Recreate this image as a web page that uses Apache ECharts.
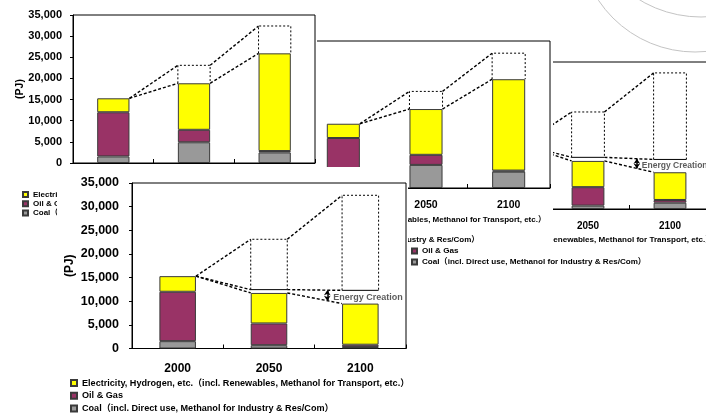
<!DOCTYPE html>
<html>
<head>
<meta charset="utf-8">
<script src="https://cdn.jsdelivr.net/npm/echarts@6/dist/echarts.min.js"></script>
<style>
  html, body { margin: 0; padding: 0; background: #fff; }
  #stage { position: relative; width: 706px; height: 415px; overflow: hidden; background: #fff; }
  .panel { position: absolute; background: #fff; }
</style>
</head>
<body>
<div id="stage">
  <div id="pC" class="panel" style="left:0;top:0;width:706px;height:415px;z-index:1"></div>
  <div id="pB" class="panel" style="left:200px;top:0;width:353px;height:246px;z-index:2"></div>
  <div id="pA" class="panel" style="left:0;top:0;width:317px;height:225px;z-index:3"></div>
  <div id="pD" class="panel" style="left:57px;top:167px;width:351px;height:248px;z-index:4"></div>
</div>
<script>
// ---------------- data ----------------
const years = ['2000', '2050', '2100'];
const yTicks = [0, 5000, 10000, 15000, 20000, 25000, 30000, 35000];
const nameElec = 'Electricity, Hydrogen, etc.（incl. Renewables, Methanol for Transport, etc.）';
const nameOil = 'Oil & Gas';
const nameCoal = 'Coal（incl. Direct use, Methanol for Industry & Res/Com）';
const unitLabel = '(PJ)';
const noteText = 'Energy Creation';

// Case 1: supply grows with demand
const coal1 = [1550, 4900, 2500];
const oil1 = [10450, 2950, 330];
const elec1 = [3300, 11000, 23100];
const demand1 = [15300, 23100, 32400];

// Case 2: supply grows with demand, more coal
const coal2 = [1500, 5500, 3900];
const oil2 = [10400, 2400, 250];
const elec2 = [3400, 10900, 21750];
const demand2 = [15300, 23000, 32100];

// Case 3: demand cut, energy creation
const coal3 = [1500, 800, 1500];
const oil3 = [10500, 4400, 650];
const elec3 = [3300, 6250, 6600];
const demand3 = [15300, 23100, 32400];
const floor3 = [15300, 12300, 11800];

// Case 4: demand cut, energy creation
const coal4 = [1550, 700, 300];
const oil4 = [10450, 4600, 500];
const elec4 = [3300, 6450, 8700];
const demand4 = [15300, 23100, 32400];
const floor4 = [15300, 12450, 12300];

// ---------------- drawing ----------------
const FONT = '"Liberation Sans", Arial, "Noto Sans CJK JP", sans-serif';
const COLORS = { elec: '#ffff00', oil: '#993366', coal: '#999999' };
const HALF = 0.2;            // half of a bar in category units (barWidth 40%)

function buildOption(d, s) {
  const n = years.length;
  const totals = years.map((_, i) => d.coal[i] + d.oil[i] + d.elec[i]);
  const lx = i => i + 0.5 - HALF;
  const rx = i => i + 0.5 + HALF;
  const levels = i => d.floor ? [d.demand[i], d.floor[i], totals[i]] : [d.demand[i], totals[i]];

  const connectors = [];
  for (let i = 0; i < n - 1; i++) {
    const a = levels(i), b = levels(i + 1);
    for (let k = 0; k < a.length; k++) {
      connectors.push({ coords: [[rx(i), i === 0 ? totals[0] : a[k]], [lx(i + 1), b[k]]] });
    }
  }
  const boxes = [], floors = [];
  for (let i = 1; i < n; i++) {
    const base = d.floor ? d.floor[i] : totals[i];
    boxes.push({ coords: [[lx(i), base], [lx(i), d.demand[i]], [rx(i), d.demand[i]], [rx(i), base]] });
    if (d.floor) floors.push({ coords: [[lx(i), base], [rx(i), base]] });
  }
  const extra = [];
  if (d.floor) {
    const t = s.noteAt;
    const x = rx(1) + t * (lx(2) - rx(1));
    const top = d.floor[1] + t * (d.floor[2] - d.floor[1]);
    const bot = totals[1] + t * (totals[2] - totals[1]);
    extra.push({
      type: 'lines', coordinateSystem: 'cartesian2d', xAxisIndex: 1, yAxisIndex: 0,
      symbol: ['arrow', 'arrow'], symbolSize: [5, 5], silent: true, z: 6,
      lineStyle: { color: '#000', width: 1.5, opacity: 1 },
      data: [{ coords: [[x, top], [x, bot]] }]
    });
    extra.push({
      type: 'scatter', xAxisIndex: 1, yAxisIndex: 0, symbolSize: 0, silent: true, z: 6,
      data: [[x, (top + bot) / 2]],
      label: {
        show: true, position: 'right', distance: s.noteGap, formatter: noteText,
        fontFamily: FONT, fontSize: s.noteFont, fontWeight: 'bold', color: '#333', offset: [0, 2]
      }
    });
  }

  const barBase = {
    type: 'bar', stack: 'total', barWidth: '40%', xAxisIndex: 0, yAxisIndex: 0,
    itemStyle: { borderColor: '#3a3a3a', borderWidth: 1 }
  };
  const lineBase = {
    type: 'lines', coordinateSystem: 'cartesian2d', xAxisIndex: 1, yAxisIndex: 0,
    polyline: true, silent: true, z: 5
  };

  return {
    animation: false,
    backgroundColor: '#fff',
    textStyle: { fontFamily: FONT },
    grid: Object.assign({ show: true, borderColor: '#000', borderWidth: 1, backgroundColor: 'transparent',
      containLabel: false, outerBoundsMode: 'none' }, s.grid),
    legend: {
      orient: 'vertical', left: s.legend.left, top: s.legend.top, padding: 0,
      itemWidth: s.legend.icon, itemHeight: s.legend.icon, itemGap: s.legend.gap,
      icon: 'rect', selectedMode: false,
      data: [nameElec, nameOil, nameCoal],
      textStyle: { fontFamily: FONT, fontSize: s.legend.font, fontWeight: 'bold', color: '#000',
        lineHeight: s.legend.lh }
    },
    xAxis: [
      {
        type: 'category', data: years, boundaryGap: true,
        axisLine: { show: true, lineStyle: { color: '#000', width: 1 } },
        axisTick: { show: true, inside: true, length: 4, lineStyle: { color: '#000' } },
        axisLabel: { fontFamily: FONT, fontSize: s.xFont, fontWeight: 'bold', color: '#000', margin: s.xMargin },
        splitLine: { show: false }
      },
      { type: 'value', min: 0, max: n, show: false, splitLine: { show: false } }
    ],
    yAxis: {
      type: 'value', min: yTicks[0], max: yTicks[yTicks.length - 1], interval: yTicks[1] - yTicks[0],
      name: unitLabel, nameLocation: 'middle', nameRotate: 90, nameGap: s.nameGap, nameMoveOverlap: false,
      nameTextStyle: { fontFamily: FONT, fontSize: s.nameFont, fontWeight: 'bold', color: '#000' },
      axisLine: { show: true, lineStyle: { color: '#000', width: 1 } },
      axisTick: { show: true, length: 3, lineStyle: { color: '#000' } },
      axisLabel: { fontFamily: FONT, fontSize: s.yFont, fontWeight: 'bold', color: '#000', margin: s.yMargin,
        formatter: v => v.toLocaleString('en-US') },
      splitLine: { show: false }
    },
    graphic: s.graphic || [],
    series: [
      Object.assign({ name: nameCoal, data: d.coal }, barBase, { itemStyle: Object.assign({ color: COLORS.coal }, barBase.itemStyle) }),
      Object.assign({ name: nameOil, data: d.oil }, barBase, { itemStyle: Object.assign({ color: COLORS.oil }, barBase.itemStyle) }),
      Object.assign({ name: nameElec, data: d.elec }, barBase, { itemStyle: Object.assign({ color: COLORS.elec }, barBase.itemStyle) }),
      Object.assign({}, lineBase, { lineStyle: { color: '#000', width: 1.4, type: [3, 2], opacity: 1 }, data: connectors }),
      Object.assign({}, lineBase, { lineStyle: { color: '#000', width: 1, type: [2, 2], opacity: 1 }, data: boxes }),
      Object.assign({}, lineBase, { lineStyle: { color: '#000', width: 1, type: 'solid', opacity: 1 }, data: floors })
    ].concat(extra)
  };
}

// decorative rings in the upper right corner
const rings = [
  { type: 'circle', silent: true, z: -1, shape: { cx: 695, cy: -64, r: 116 }, style: { fill: 'none', stroke: '#c4c4c4', lineWidth: 1 } },
  { type: 'circle', silent: true, z: -1, shape: { cx: 701, cy: -102, r: 119 }, style: { fill: 'none', stroke: '#c4c4c4', lineWidth: 1 } }
];

const panels = [
  { id: 'pC', data: { coal: coal3, oil: oil3, elec: elec3, demand: demand3, floor: floor3 },
    style: { grid: { left: 465, top: 62, width: 246, height: 147 }, yFont: 10.5, yMargin: 11, xFont: 10, xMargin: 12,
      nameFont: 10.5, nameGap: 48, noteAt: 0.66, noteGap: 5, noteFont: 8.5,
      legend: { left: 411, top: 235.5, icon: 5, gap: 2, font: 8.1, lh: 9 }, graphic: rings } },
  { id: 'pB', data: { coal: coal2, oil: oil2, elec: elec2, demand: demand2 },
    style: { grid: { left: 102, top: 41, width: 248, height: 147 }, yFont: 10.5, yMargin: 11, xFont: 10.5, xMargin: 12,
      nameFont: 10.5, nameGap: 48,
      legend: { left: 47, top: 215.5, icon: 5, gap: 1, font: 8, lh: 9 } } },
  { id: 'pA', data: { coal: coal1, oil: oil1, elec: elec1, demand: demand1 },
    style: { grid: { left: 73, top: 15, width: 242, height: 148 }, yFont: 11, yMargin: 11, xFont: 11, xMargin: 12,
      nameFont: 10.5, nameGap: 48,
      legend: { left: 22, top: 190, icon: 5, gap: 0.2, font: 8, lh: 9 } } },
  { id: 'pD', data: { coal: coal4, oil: oil4, elec: elec4, demand: demand4, floor: floor4 },
    style: { grid: { left: 75, top: 16, width: 274, height: 165.5 }, yFont: 12.5, yMargin: 13, xFont: 12, xMargin: 14,
      nameFont: 12, nameGap: 56, noteAt: 0.73, noteGap: 6, noteFont: 9,
      legend: { left: 13, top: 211, icon: 6, gap: 2.5, font: 9.1, lh: 10.2 } } }
];

panels.forEach(p => {
  const chart = echarts.init(document.getElementById(p.id), null, { renderer: 'canvas' });
  chart.setOption(buildOption(p.data, p.style));
});
</script>
</body>
</html>
